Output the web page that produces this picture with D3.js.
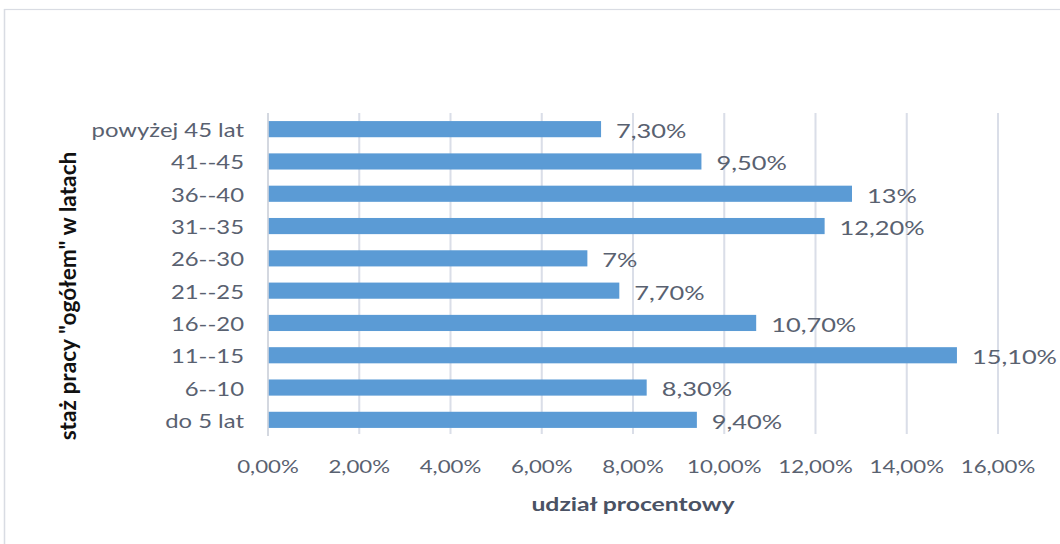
<!DOCTYPE html>
<html>
<head>
<meta charset="utf-8">
<script src="https://cdn.jsdelivr.net/npm/d3@7"></script>
<style>
  html, body { margin: 0; padding: 0; background: #fff; }
  svg { display: block; }
  text { font-family: Lato, "Open Sans", sans-serif; }
</style>
</head>
<body>
<div id="chart"></div>
<script>
const categories = ['do 5 lat', '6--10', '11--15', '16--20', '21--25', '26--30', '31--35', '36--40', '41--45', 'powyżej 45 lat'];
const values = [9.4, 8.3, 15.1, 10.7, 7.7, 7.0, 12.2, 12.8, 9.5, 7.3];
const valueLabels = ['9,40%', '8,30%', '15,10%', '10,70%', '7,70%', '7%', '12,20%', '13%', '9,50%', '7,30%'];
const xTicks = [0, 2, 4, 6, 8, 10, 12, 14, 16];
const xTitle = 'udział procentowy';
const yTitle = 'staż pracy "ogółem" w latach';

const W = 1060, H = 544;
// the source picture is stretched sideways, so draw in a narrower box and stretch it
const k = 1.27;
const vx = v => v / k;

const svg = d3.select('#chart').append('svg')
  .attr('width', W).attr('height', H)
  .attr('viewBox', `0 0 ${W / k} ${H}`)
  .attr('preserveAspectRatio', 'none');

// outer frame
svg.append('rect')
  .attr('x', vx(4.5)).attr('y', 9.5)
  .attr('width', vx(1100)).attr('height', 600)
  .attr('fill', 'none').attr('stroke', '#d9dce3').attr('stroke-width', 1.2);

const x = d3.scaleLinear().domain([0, 16]).range([vx(268), vx(998)]);
const y = d3.scaleBand()
  .domain(categories.slice().reverse())
  .range([113, 436])
  .paddingInner(0.5)
  .paddingOuter(0.25);

// gridlines
svg.append('g').selectAll('line')
  .data(xTicks.slice(1))
  .enter().append('line')
  .attr('x1', d => x(d)).attr('x2', d => x(d))
  .attr('y1', 113).attr('y2', 434)
  .attr('stroke', '#dadee8').attr('stroke-width', 1.6);

// y axis line
svg.append('line')
  .attr('x1', x(0)).attr('x2', x(0))
  .attr('y1', 113).attr('y2', 436)
  .attr('stroke', '#d4d8e0').attr('stroke-width', 1.6);

// bars
svg.append('g').selectAll('rect')
  .data(values)
  .enter().append('rect')
  .attr('x', x(0) + 0.6)
  .attr('y', (d, i) => y(categories[i]))
  .attr('width', d => x(d) - x(0) - 0.6)
  .attr('height', y.bandwidth())
  .attr('fill', '#5b9bd5');

// value labels
svg.append('g').selectAll('text')
  .data(values)
  .enter().append('text')
  .attr('x', d => x(d) + vx(15))
  .attr('y', (d, i) => y(categories[i]) + y.bandwidth() / 2 + 1)
  .attr('dominant-baseline', 'central')
  .attr('font-size', 20)
  .attr('fill', '#596170')
  .text((d, i) => valueLabels[i]);

// category labels
svg.append('g').selectAll('text')
  .data(categories)
  .enter().append('text')
  .attr('x', vx(244))
  .attr('y', d => y(d) + y.bandwidth() / 2 + 1)
  .attr('text-anchor', 'end')
  .attr('dominant-baseline', 'central')
  .attr('font-size', 18.8)
  .attr('fill', '#596170')
  .text(d => d);

// x tick labels
svg.append('g').selectAll('text')
  .data(xTicks)
  .enter().append('text')
  .attr('x', d => x(d))
  .attr('y', 473)
  .attr('text-anchor', 'middle')
  .attr('font-size', 17.5)
  .attr('fill', '#596170')
  .text(d => d.toFixed(2).replace('.', ',') + '%');

// axis titles
svg.append('text')
  .attr('x', x(8))
  .attr('y', 511)
  .attr('text-anchor', 'middle')
  .attr('font-size', 19.5)
  .attr('font-weight', 'bold')
  .attr('fill', '#4a5264')
  .text(xTitle);

svg.append('text')
  .attr('transform', `translate(${vx(76)},296) rotate(-90) scale(1.26,1)`)
  .attr('text-anchor', 'middle')
  .attr('font-size', 18)
  .attr('font-weight', 'bold')
  .attr('fill', '#111')
  .text(yTitle);
</script>
</body>
</html>
